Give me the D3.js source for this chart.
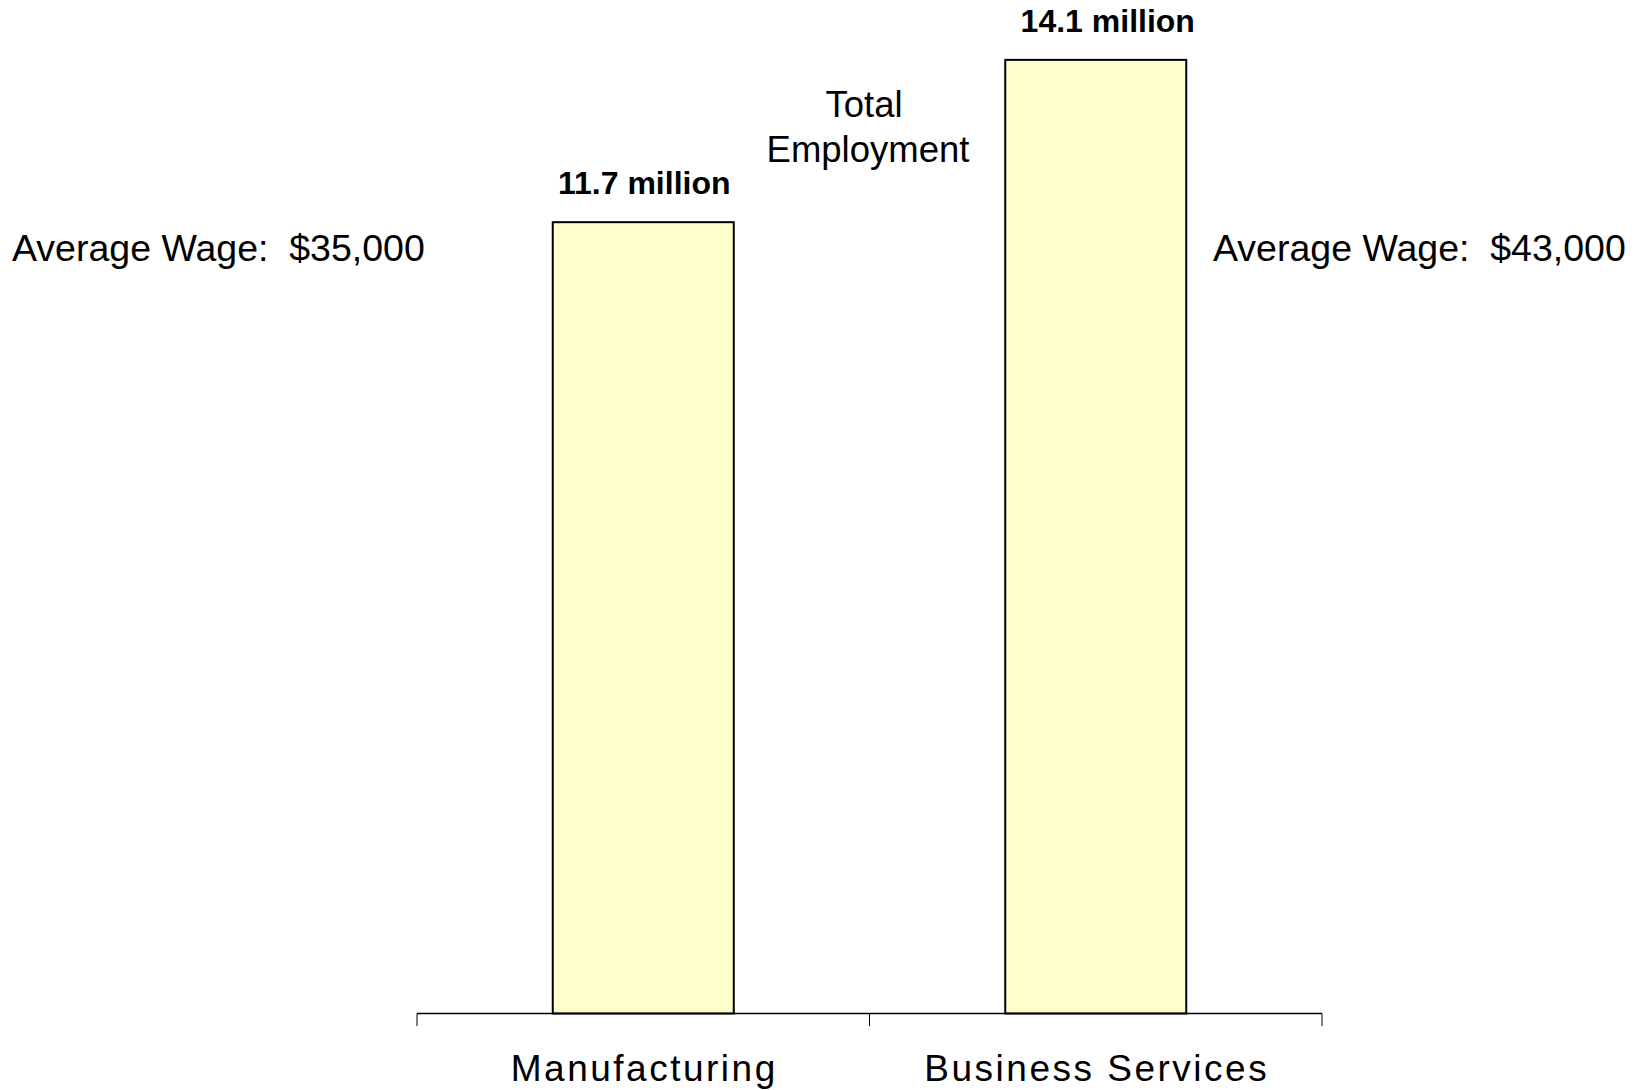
<!DOCTYPE html>
<html>
<head>
<meta charset="utf-8">
<script src="https://cdn.jsdelivr.net/npm/d3@7"></script>
<style>
  html, body { margin: 0; padding: 0; background: #ffffff; }
  svg { display: block; font-family: "Liberation Sans", Arial, Helvetica, sans-serif; }
</style>
</head>
<body>
<svg id="chart" width="1636" height="1090"></svg>
<script>
// Employment by sector (millions of workers)
const categories = ["Manufacturing", "Business Services"];
const employment = [11.7, 14.1];
const valueLabels = ["11.7 million", "14.1 million"];
const wageLabels = ["Average Wage:  $35,000", "Average Wage:  $43,000"];
const centerNote = ["Total", "Employment"];

const svg = d3.select("#chart");

const plot = { left: 417, right: 1322, top: -1, bottom: 1013.5 };

const x = d3.scaleBand()
  .domain(categories)
  .range([plot.left, plot.right])
  .paddingInner(0.6)
  .paddingOuter(0.3);

const y = d3.scaleLinear()
  .domain([0, 15])
  .range([plot.bottom, plot.top]);

// bars
svg.append("g")
  .selectAll("rect")
  .data(categories)
  .join("rect")
  .attr("x", d => x(d))
  .attr("y", (d, i) => y(employment[i]))
  .attr("width", x.bandwidth())
  .attr("height", (d, i) => y(0) - y(employment[i]))
  .attr("fill", "#FFFFCC")
  .attr("stroke", "#000")
  .attr("stroke-width", 2);

// category axis: baseline with ticks at band boundaries
const axisG = svg.append("g");
axisG.append("line")
  .attr("x1", plot.left).attr("x2", plot.right)
  .attr("y1", y(0)).attr("y2", y(0))
  .attr("stroke", "#000").attr("stroke-width", 1.5);

const tickXs = d3.range(categories.length + 1)
  .map(i => plot.left + i * (plot.right - plot.left) / categories.length);
axisG.selectAll("line.tick")
  .data(tickXs)
  .join("line")
  .attr("class", "tick")
  .attr("x1", d => d).attr("x2", d => d)
  .attr("y1", y(0)).attr("y2", y(0) + 12.5)
  .attr("stroke", "#000").attr("stroke-width", 1);

// category labels
svg.append("g")
  .selectAll("text")
  .data(categories)
  .join("text")
  .attr("x", d => x(d) + x.bandwidth() / 2 + 1)
  .attr("y", 1081)
  .attr("text-anchor", "middle")
  .attr("font-size", 37)
  .attr("letter-spacing", 2.5)
  .attr("fill", "#000")
  .text(d => d);

// value labels above bars
const labelShift = [1, 12];
svg.append("g")
  .selectAll("text")
  .data(categories)
  .join("text")
  .attr("x", (d, i) => x(d) + x.bandwidth() / 2 + labelShift[i])
  .attr("y", (d, i) => y(employment[i]) - 28)
  .attr("text-anchor", "middle")
  .attr("font-size", 32)
  .attr("font-weight", "bold")
  .attr("fill", "#000")
  .text((d, i) => valueLabels[i]);

// average wage annotations
svg.append("text")
  .attr("x", 12)
  .attr("y", 261)
  .attr("font-size", 37.5)
  .attr("fill", "#000")
  .style("white-space", "pre")
  .text(wageLabels[0]);

svg.append("text")
  .attr("x", 1213)
  .attr("y", 261)
  .attr("font-size", 37.5)
  .attr("fill", "#000")
  .style("white-space", "pre")
  .text(wageLabels[1]);

// centre note
svg.append("g")
  .selectAll("text")
  .data(centerNote)
  .join("text")
  .attr("x", (d, i) => i === 0 ? 864 : 868)
  .attr("y", (d, i) => 117 + i * 45)
  .attr("text-anchor", "middle")
  .attr("font-size", 36.5)
  .attr("fill", "#000")
  .text(d => d);
</script>
</body>
</html>
